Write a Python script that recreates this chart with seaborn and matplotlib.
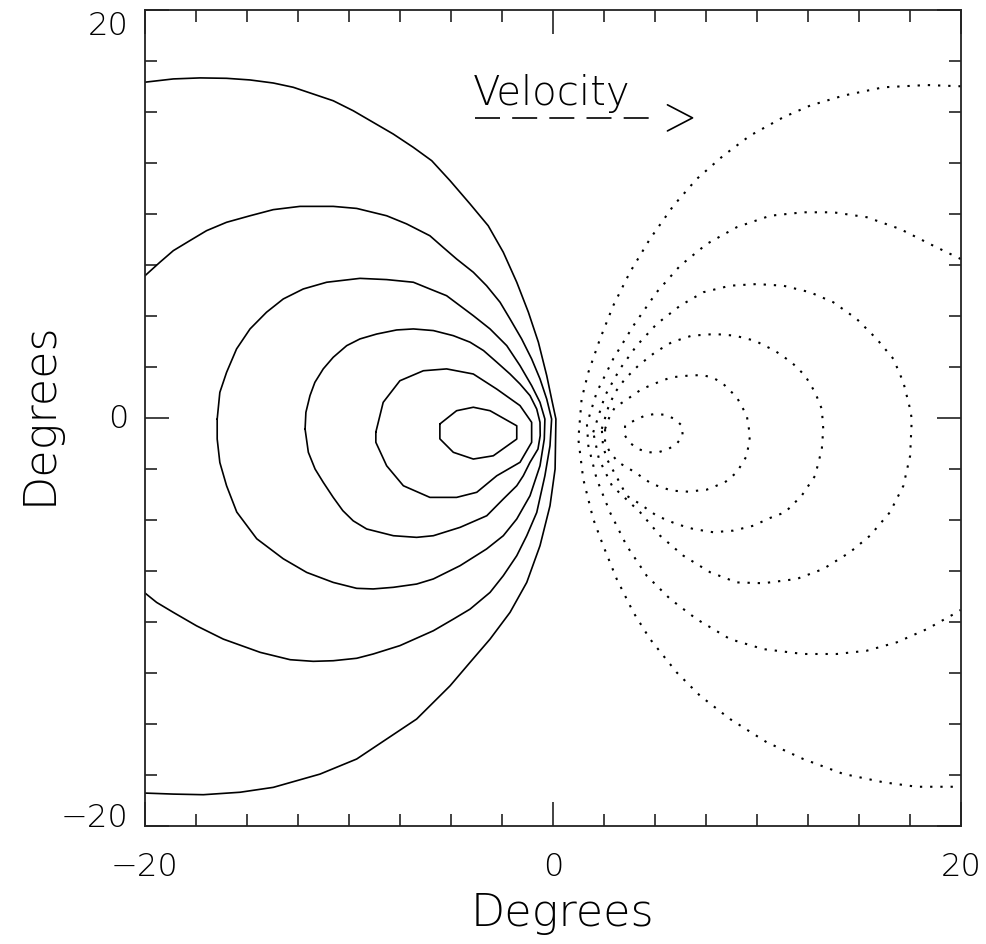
import numpy as np
import pandas as pd
import matplotlib
matplotlib.use("Agg")
import matplotlib.pyplot as plt
from matplotlib.ticker import MultipleLocator, FixedLocator
import seaborn as sns

# ---------------- data (degrees) ----------------
# solid contours (negative side)
c1_x = [-20.00, -18.61, -17.30, -16.00, -14.85, -13.71, -12.73, -11.75, -10.77, -9.79, -8.81, -7.83, -6.85, -5.94, -5.04, -4.06, -3.17, -2.43, -1.77, -1.20, -0.71, -0.30, -0.06, 0.15,
        0.11, -0.14, -0.63, -1.28, -2.10, -3.08, -4.06, -5.04, -6.68, -8.15, -9.62, -11.42, -13.71, -15.34, -17.14, -18.61, -20.00]
c1_y = [16.46, 16.62, 16.67, 16.65, 16.57, 16.42, 16.21, 15.88, 15.55, 15.06, 14.49, 13.92, 13.27, 12.61, 11.63, 10.49, 9.42, 8.12, 6.65, 5.18, 3.71, 2.07, 0.92, -0.06,
        -2.51, -4.31, -6.27, -8.07, -9.54, -10.85, -11.99, -13.14, -14.77, -15.75, -16.73, -17.47, -18.12, -18.36, -18.48, -18.45, -18.40]

c2_x = [-20.00, -19.27, -18.61, -17.80, -16.98, -16.00, -14.85, -13.71, -12.40, -10.77, -9.62, -8.15, -7.17, -6.03, -5.38, -4.72, -3.90, -3.25, -2.59, -2.10, -1.53, -1.04, -0.63, -0.30, -0.06,
        -0.14, -0.39, -0.79, -1.28, -1.77, -2.43, -3.08, -4.06, -4.88, -5.86, -7.50, -8.81, -9.62, -10.77, -11.75, -12.88, -14.35, -16.16, -17.47, -18.61, -19.43, -20.00]
c2_y = [6.97, 7.63, 8.20, 8.69, 9.18, 9.59, 9.91, 10.21, 10.37, 10.37, 10.27, 9.91, 9.51, 8.93, 8.36, 7.79, 7.14, 6.48, 5.67, 4.85, 3.87, 2.89, 1.91, 0.92, -0.06,
        -1.37, -2.84, -4.64, -5.78, -6.76, -7.74, -8.56, -9.38, -9.87, -10.44, -11.17, -11.58, -11.79, -11.91, -11.94, -11.86, -11.50, -10.85, -10.20, -9.54, -9.05, -8.59]

c3_x = [-16.46, -16.33, -16.00, -15.51, -14.85, -14.04, -13.22, -12.24, -11.09, -9.46, -8.15, -6.84, -6.03, -5.21, -3.90, -3.08, -2.26, -1.61, -1.04, -0.63, -0.39,
        -0.42, -0.63, -1.12, -1.77, -2.43, -3.25, -4.55, -5.86, -6.68, -7.82, -8.81, -9.62, -10.77, -12.07, -13.22, -14.52, -15.50, -16.00, -16.33, -16.46]
c3_y = [-0.06, 1.25, 2.23, 3.38, 4.36, 5.18, 5.83, 6.32, 6.65, 6.84, 6.78, 6.65, 6.32, 5.99, 5.01, 4.36, 3.54, 2.56, 1.58, 0.76, -0.06,
        -1.04, -2.35, -3.82, -4.96, -5.78, -6.43, -7.25, -7.90, -8.15, -8.31, -8.39, -8.36, -8.07, -7.58, -6.91, -5.93, -4.62, -3.33, -2.19, -1.04]

c4_x = [-12.15, -12.11, -11.91, -11.67, -11.26, -10.77, -10.11, -9.46, -8.64, -7.66, -6.84, -5.86, -4.88, -4.06, -3.40, -2.75, -2.10, -1.61, -1.12, -0.79, -0.63, -0.62,
        -0.73, -1.12, -1.45, -1.77, -2.43, -3.24, -4.55, -5.86, -6.68, -7.82, -9.13, -9.79, -10.30, -10.77, -11.26, -11.66, -11.99]
c4_y = [-0.55, 0.27, 1.09, 1.74, 2.40, 2.97, 3.54, 3.87, 4.11, 4.31, 4.36, 4.28, 4.03, 3.71, 3.30, 2.73, 2.15, 1.66, 1.09, 0.43, -0.22, -0.87,
        -1.53, -2.18, -2.84, -3.33, -3.98, -4.80, -5.37, -5.78, -5.86, -5.78, -5.45, -5.05, -4.55, -3.90, -3.16, -2.51, -1.69]

c5_x = [-8.68, -8.32, -7.50, -6.35, -5.21, -3.90, -2.75, -1.61, -1.04, -1.04, -1.61, -2.75, -3.73, -4.72, -6.03, -7.33, -8.15, -8.68]
c5_y = [-0.70, 0.76, 1.82, 2.31, 2.40, 2.15, 1.41, 0.60, -0.22, -1.20, -2.18, -2.84, -3.65, -3.90, -3.90, -3.33, -2.35, -1.20]

c6_x = [-5.54, -5.54, -4.88, -3.90, -2.92, -1.77, -1.77, -3.08, -3.90, -4.72]
c6_y = [-0.30, -1.03, -1.69, -2.02, -1.86, -1.04, -0.39, 0.35, 0.52, 0.35]

# dotted contours (positive side)
d1_x = [20.00, 18.33, 16.21, 14.24, 12.61, 11.30, 9.67, 8.36, 7.05, 5.91, 4.76, 3.78, 2.96, 2.31, 1.74, 1.41, 1.25, 1.49, 1.98, 2.47, 3.13, 3.95, 4.76, 6.07, 7.22, 8.69, 10.49, 12.28, 14.24, 16.21, 17.84, 20.00]
d1_y = [16.26, 16.32, 16.21, 15.80, 15.31, 14.74, 13.84, 12.86, 11.71, 10.40, 8.77, 7.14, 5.50, 3.86, 2.23, 0.92, -1.04, -3.00, -4.96, -6.27, -7.90, -9.54, -10.84, -12.48, -13.63, -14.77, -15.91, -16.73, -17.46, -17.87, -18.09, -18.09]

d2_x = [20.00, 18.66, 17.03, 15.39, 13.75, 12.28, 10.65, 9.02, 7.55, 6.24, 5.09, 3.95, 2.96, 2.15, 1.67, 1.74, 2.15, 2.80, 3.62, 4.60, 5.75, 7.05, 8.69, 10.32, 12.28, 13.92, 15.39, 16.86, 18.34, 19.81, 20.00]
d2_y = [7.79, 8.44, 9.26, 9.84, 10.08, 10.08, 9.91, 9.35, 8.53, 7.46, 6.16, 4.52, 2.89, 1.25, -0.30, -1.37, -3.00, -4.63, -6.27, -7.74, -8.88, -9.87, -10.85, -11.34, -11.58, -11.58, -11.42, -11.01, -10.36, -9.54, -9.42]

d3_x = [1.98, 2.56, 3.29, 4.11, 5.09, 6.24, 7.38, 8.69, 10.00, 11.30, 12.61, 13.75, 14.90, 15.88, 16.70, 17.19, 17.52, 17.60, 17.52, 17.19, 16.53, 15.55, 14.57, 13.26, 11.96, 10.32, 9.02, 7.71, 6.40, 5.26, 4.28, 2.90, 2.26]
d3_y = [-0.71, 1.09, 2.40, 3.54, 4.60, 5.50, 6.16, 6.48, 6.56, 6.48, 6.16, 5.67, 4.85, 3.87, 2.89, 1.74, 0.43, -0.06, -1.86, -3.33, -4.63, -5.78, -6.59, -7.41, -7.90, -8.11, -8.07, -7.57, -6.76, -5.78, -4.63, -3.33, -2.02]

d4_x = [2.40, 2.72, 3.05, 3.54, 4.19, 5.01, 5.83, 6.81, 7.95, 8.93, 9.91, 10.89, 11.71, 12.37, 12.86, 13.19, 13.26, 13.19, 12.86, 12.20, 11.39, 10.65, 9.83, 8.85, 7.87, 6.89, 6.07, 5.09, 4.27, 3.62, 3.13, 2.65, 2.46]
d4_y = [-0.54, 0.52, 1.25, 1.91, 2.56, 3.21, 3.71, 4.03, 4.11, 4.03, 3.78, 3.29, 2.72, 2.07, 1.25, 0.43, -0.55, -1.53, -2.84, -3.82, -4.63, -4.91, -5.29, -5.53, -5.61, -5.45, -5.21, -4.80, -4.22, -3.82, -2.90, -2.02, -1.37]

d5_x = [2.56, 2.80, 3.05, 3.54, 4.36, 5.34, 5.83, 6.64, 7.30, 7.79, 8.28, 9.02, 9.51, 9.67, 9.51, 9.02, 8.44, 7.55, 6.64, 5.83, 4.85, 4.03, 3.21, 2.80, 2.56]
d5_y = [-0.54, 0.11, 0.52, 0.84, 1.41, 1.82, 1.99, 2.07, 2.10, 1.99, 1.74, 1.01, 0.11, -0.88, -1.86, -2.67, -3.16, -3.52, -3.62, -3.57, -3.24, -2.67, -2.18, -1.69, -1.20]

d6_x = [3.54, 3.54, 3.78, 4.19, 4.68, 5.17, 5.66, 6.07, 6.37, 6.32, 5.99, 5.50, 5.01, 4.52, 4.03]
d6_y = [-0.38, -0.88, -1.23, -1.53, -1.69, -1.69, -1.53, -1.28, -0.88, -0.38, -0.06, 0.15, 0.19, 0.11, -0.11]

x_ticks = [-20, 0, 20]
y_ticks = [-20, 0, 20]
tick_labels = ["\u221220", "0", "20"]
axis_label = "Degrees"
arrow_label = "Velocity"

# ---------------- build tables ----------------
solid = [("c1", c1_x, c1_y, False), ("c2", c2_x, c2_y, False),
         ("c3", c3_x, c3_y, True), ("c4", c4_x, c4_y, True),
         ("c5", c5_x, c5_y, True), ("c6", c6_x, c6_y, True)]
dotted = [("d1", d1_x, d1_y, False), ("d2", d2_x, d2_y, False),
          ("d3", d3_x, d3_y, True), ("d4", d4_x, d4_y, True),
          ("d5", d5_x, d5_y, True), ("d6", d6_x, d6_y, True)]


def table(curves):
    frames = []
    for name, xs, ys, closed in curves:
        xs = list(xs)
        ys = list(ys)
        if closed:
            xs = xs + xs[:1]
            ys = ys + ys[:1]
        frames.append(pd.DataFrame({"x": xs, "y": ys, "contour": name}))
    return pd.concat(frames, ignore_index=True)


df_solid = table(solid)
df_dot = table(dotted)

# ---------------- figure ----------------
sns.set_style("white")
plt.rcParams["font.family"] = ["DejaVu Sans"]
plt.rcParams["font.weight"] = "light"
plt.rcParams["axes.labelweight"] = "light"

fig = plt.figure(figsize=(9.87, 9.45), dpi=100)
ax = fig.add_axes([145 / 987, 1 - 826.7 / 945, 815.7 / 987, 815.7 / 945])

sns.lineplot(data=df_solid, x="x", y="y", units="contour", estimator=None,
             sort=False, color="black", lw=1.2, ax=ax)
sns.lineplot(data=df_dot, x="x", y="y", units="contour", estimator=None,
             sort=False, color="black", lw=1.5, linestyle=(0, (1.1, 3.8)), ax=ax)

# velocity arrow annotation
ax.text(-3.92, 15.39, arrow_label, fontsize=29, va="baseline", ha="left",
        color="black", fontweight="light")
ax.plot([-3.80, 5.15], [14.71, 14.71], color="black", lw=1.2,
        dashes=(15, 7.3))
ax.plot([5.62, 6.85, 5.62], [15.35, 14.71, 14.07], color="black", lw=1.2)

ax.set_xlim(-20, 20)
ax.set_ylim(-20, 20)
ax.xaxis.set_major_locator(FixedLocator(x_ticks))
ax.yaxis.set_major_locator(FixedLocator(y_ticks))
ax.xaxis.set_minor_locator(MultipleLocator(2.5))
ax.yaxis.set_minor_locator(MultipleLocator(2.5))
ax.set_xticklabels(tick_labels)
ax.set_yticklabels(tick_labels)

ax.tick_params(which="both", direction="in", top=True, right=True,
               bottom=True, left=True, color="#222222", width=1.2,
               labelcolor="black")
ax.tick_params(which="major", length=17.3, labelsize=23)
ax.tick_params(which="minor", length=8.6)
ax.tick_params(axis="x", which="major", pad=18.5)
ax.tick_params(axis="y", which="major", pad=12)

for lab in ax.get_yticklabels():
    t = lab.get_text()
    if t == "20":
        lab.set_verticalalignment("top")
    elif t == "\u221220":
        lab.set_verticalalignment("baseline")
    else:
        lab.set_verticalalignment("center")

for sp in ax.spines.values():
    sp.set_linewidth(1.3)
    sp.set_color("#222222")

ax.set_xlabel(axis_label, fontsize=32, color="black", fontweight="light")
ax.set_ylabel(axis_label, fontsize=32, color="black", fontweight="light")
ax.xaxis.set_label_coords(0.512, -0.080)
ax.yaxis.set_label_coords(-0.104, 0.507)

ax.grid(False)
fig.savefig("out.png", dpi=100, facecolor="white")
